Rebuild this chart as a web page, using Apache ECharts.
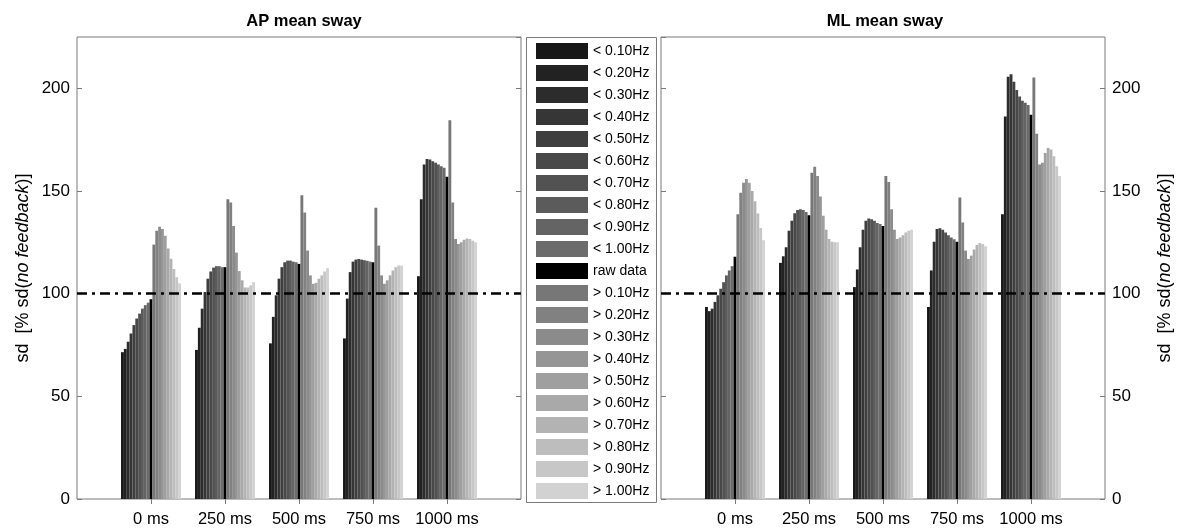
<!DOCTYPE html>
<html>
<head>
<meta charset="utf-8">
<script src="https://cdn.jsdelivr.net/npm/echarts@6/dist/echarts.min.js"></script>
<style>
html,body{margin:0;padding:0;background:#fff;}
#chart{width:1181px;height:528px;}
</style>
</head>
<body>
<div id="chart"></div>
<script>
// ---- Data ----
const categories = ['0 ms', '250 ms', '500 ms', '750 ms', '1000 ms'];
const filters = ['< 0.10Hz', '< 0.20Hz', '< 0.30Hz', '< 0.40Hz', '< 0.50Hz', '< 0.60Hz', '< 0.70Hz', '< 0.80Hz', '< 0.90Hz', '< 1.00Hz',
  'raw data',
  '> 0.10Hz', '> 0.20Hz', '> 0.30Hz', '> 0.40Hz', '> 0.50Hz', '> 0.60Hz', '> 0.70Hz', '> 0.80Hz', '> 0.90Hz', '> 1.00Hz'];
const filterColors = ['#171717', '#222222', '#2c2c2c', '#363636', '#3f3f3f', '#484848', '#525252', '#5b5b5b', '#646464', '#6c6c6c',
  '#000000',
  '#777777', '#818181', '#8b8b8b', '#959595', '#9f9f9f', '#a9a9a9', '#b3b3b3', '#bdbdbd', '#c7c7c7', '#d2d2d2'];

// AP mean sway, one array per feedback delay (21 filter values each)
const ap0    = [71.5, 73.1, 76.6, 80.6, 84.7, 87.9, 90.3, 92.7, 94.4, 95.6, 97.3, 123.9, 130.6, 132.6, 131.5, 128.2, 122, 117, 112, 108, 105];
const ap250  = [72.6, 83.4, 92.7, 100.8, 107.3, 110.8, 112.7, 113.4, 113.4, 112.9, 112.9, 146, 144.4, 133, 120, 111, 106.5, 103, 103, 104, 105.6];
const ap500  = [75.8, 88.7, 99.2, 107.3, 112.9, 115.3, 116.1, 116.1, 115.6, 115.3, 114.5, 147.9, 139.5, 121, 108.9, 104.8, 105.3, 107.3, 108.9, 110.8, 112.4];
const ap750  = [78.2, 97.6, 110.5, 115.6, 116.6, 116.9, 116.6, 116.3, 116, 115.6, 115.3, 141.9, 123.4, 108.9, 104.8, 106.5, 108.9, 111.3, 112.9, 113.7, 113.7];
const ap1000 = [108.5, 146, 162.9, 165.6, 165.3, 164.5, 163.7, 162.9, 162.1, 161.3, 157, 184.4, 144.4, 126.6, 124.2, 125, 126.3, 126.9, 126.6, 125.8, 125];

// ML mean sway
const ml0    = [93.5, 91.5, 92.7, 96, 99.2, 102.4, 105.6, 108.9, 111.3, 113.4, 118, 138.7, 149.2, 154, 155.9, 154, 150, 145, 139, 132, 126];
const ml250  = [115, 118.2, 122.6, 130.6, 135.5, 139.2, 140.8, 141.1, 140.8, 139.8, 138.2, 158.9, 161.8, 157.3, 147.3, 137.9, 131.1, 126.6, 125.3, 125, 125];
const ml500  = [103.2, 111.8, 122.6, 131.1, 135.5, 136.6, 136.3, 135.5, 134.4, 133.9, 133, 157.3, 154.4, 141.1, 131.1, 126.6, 127.4, 128.5, 129.8, 130.6, 131.1];
const ml750  = [93.5, 111.3, 125.3, 131.5, 131.8, 131.1, 129.8, 128.5, 127.4, 126.5, 125.3, 146.8, 134.7, 121, 116.9, 118.5, 121.5, 123.7, 124.7, 124.2, 123.1];
const ml1000 = [138.7, 186.3, 205.6, 206.9, 203.2, 199.2, 196, 194, 193, 191.9, 187.1, 205.3, 177.9, 162.9, 163.7, 168.5, 171, 170.2, 166.9, 162.1, 157.3];

const yTicks = [0, 50, 100, 150, 200];
const refLevel = 100;

const apByDelay = [ap0, ap250, ap500, ap750, ap1000];
const mlByDelay = [ml0, ml250, ml500, ml750, ml1000];

// ---- Chart ----
const FONT = '"Liberation Sans", Arial, Helvetica, sans-serif';
const AX = '#7a7a7a';
const xCats = [''].concat(categories, ['']);
const innerTick = (i) => i > 0 && i < xCats.length - 1;

function xAxisPair(gi) {
  return [
    { type: 'category', gridIndex: gi, data: xCats, boundaryGap: false, position: 'bottom',
      axisLine: { show: false }, axisTick: { show: true, inside: true, length: 5, interval: innerTick, lineStyle: { color: AX } },
      axisLabel: { interval: 0, color: '#000', fontSize: 16.5, fontFamily: FONT, margin: 12 },
      splitLine: { show: false } },
    { type: 'category', gridIndex: gi, data: xCats, boundaryGap: false, position: 'top',
      axisLine: { show: false }, axisTick: { show: true, inside: true, length: 5, interval: innerTick, lineStyle: { color: AX } },
      axisLabel: { show: false }, splitLine: { show: false } }
  ];
}
const nameRich = {
  a: { fontSize: 18, fontFamily: FONT, color: '#000' },
  b: { fontSize: 18, fontFamily: FONT, fontStyle: 'italic', color: '#000' }
};
const yName = '{a|sd  [% sd(}{b|no feedback}{a|)]}';
function yAxisPair(gi, labelSide, gap) {
  const base = { type: 'value', gridIndex: gi, min: 0, max: 225, interval: 50,
    axisLine: { show: false }, splitLine: { show: false },
    axisTick: { show: true, inside: true, length: 5, lineStyle: { color: AX } } };
  const labeled = Object.assign({}, base, {
    position: labelSide,
    axisLabel: { show: true, color: '#000', fontSize: 17, fontFamily: FONT, margin: 7, showMaxLabel: false,
      formatter: v => (yTicks.indexOf(v) >= 0 ? String(v) : '') },
    name: yName, nameLocation: 'middle', nameRotate: 90, nameGap: gap,
    nameTextStyle: { rich: nameRich }
  });
  const mirror = Object.assign({}, base, {
    position: labelSide === 'left' ? 'right' : 'left', axisLabel: { show: false }
  });
  return [labeled, mirror];
}

const series = [];
[apByDelay, mlByDelay].forEach((panel, gi) => {
  filters.forEach((name, fi) => {
    const vals = [null].concat(panel.map(arr => arr[fi]), [null]);
    const s = {
      type: 'bar', name: name, xAxisIndex: gi * 2, yAxisIndex: gi * 2,
      data: vals, barGap: '0%', barCategoryGap: '19%',
      itemStyle: { color: filterColors[fi] }, silent: true, z: 2
    };
    if (fi === 0) {
      s.markLine = {
        silent: true, symbol: ['none', 'none'], label: { show: false }, z: 5,
        lineStyle: { color: '#000', width: 2.5, type: [10, 5, 3, 5] },
        data: [{ yAxis: refLevel }]
      };
    }
    series.push(s);
  });
});

const chart = echarts.init(document.getElementById('chart'), null, { renderer: 'canvas' });
chart.setOption({
  animation: false,
  backgroundColor: '#fff',
  title: [
    { text: 'AP mean sway', left: 299, top: 8, textAlign: 'center',
      textStyle: { fontSize: 16.5, fontWeight: 'bold', fontFamily: FONT, color: '#000' } },
    { text: 'ML mean sway', left: 880, top: 8, textAlign: 'center',
      textStyle: { fontSize: 16.5, fontWeight: 'bold', fontFamily: FONT, color: '#000' } }
  ],
  grid: [
    { left: 77, top: 37, width: 444, height: 465, show: true, borderColor: AX, borderWidth: 1, backgroundColor: 'transparent' },
    { left: 661, top: 37, width: 444, height: 465, show: true, borderColor: AX, borderWidth: 1, backgroundColor: 'transparent' }
  ],
  xAxis: xAxisPair(0).concat(xAxisPair(1)),
  yAxis: yAxisPair(0, 'left', 45).concat(yAxisPair(1, 'right', 51)),
  legend: {
    orient: 'vertical', left: 536, top: 43, padding: 0,
    itemWidth: 52, itemHeight: 16, itemGap: 6, icon: 'rect',
    data: filters,
    textStyle: { fontSize: 14, fontFamily: FONT, color: '#000' },
    selectedMode: false
  },
  graphic: [
    { type: 'rect', shape: { x: 526.5, y: 37.5, width: 130, height: 465 },
      style: { fill: 'none', stroke: AX, lineWidth: 1 }, silent: true }
  ],
  series: series
});
</script>
</body>
</html>
